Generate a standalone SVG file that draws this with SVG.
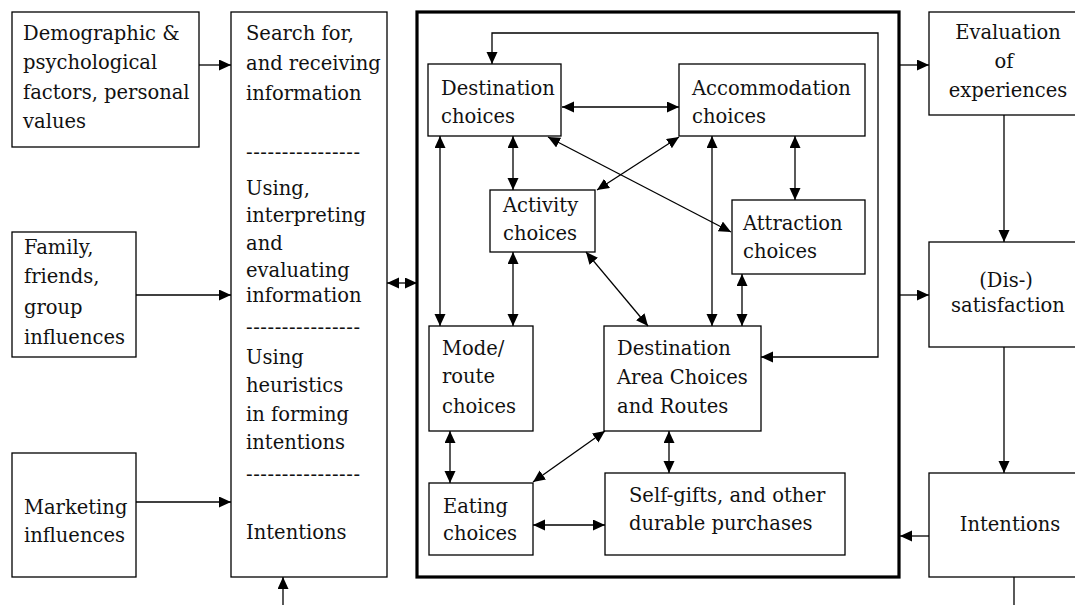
<svg xmlns="http://www.w3.org/2000/svg" width="1075" height="605" viewBox="0 0 1075 605">
  <style>
    .box { fill: #fff; stroke: #000; stroke-width: 1.3; }
    .frame { fill: none; stroke: #000; stroke-width: 3.2; }
    .lbl { font-family: "DejaVu Serif", "Liberation Serif", serif; font-size: 19.5px; fill: #111; }
    .mid { text-anchor: middle; }
    .con { fill: none; stroke: #000; stroke-width: 1.3; }
    .one { marker-end: url(#ah); }
    .two { marker-start: url(#ah); marker-end: url(#ah); }
  </style>
  <defs>
    <marker id="ah" markerUnits="userSpaceOnUse" markerWidth="13" markerHeight="13" refX="12" refY="5.5" orient="auto-start-reverse" viewBox="0 0 13 13">
      <path d="M0,0 L12,5.5 L0,11 z" fill="#000"/>
    </marker>
  </defs>

  <rect width="1075" height="605" fill="#fff"/>

  <!-- outer frame around the in-trip choices -->
  <rect id="trip-frame" class="frame" x="417" y="12" width="482" height="565"/>

  <!-- left column -->
  <g id="demographic">
    <rect class="box" x="12" y="12" width="187" height="135"/>
    <text class="lbl" x="23" y="40">Demographic &amp;</text>
    <text class="lbl" x="23" y="69">psychological</text>
    <text class="lbl" x="23" y="99">factors, personal</text>
    <text class="lbl" x="23" y="128">values</text>
  </g>
  <g id="family">
    <rect class="box" x="12" y="232" width="124" height="125"/>
    <text class="lbl" x="24" y="254">Family,</text>
    <text class="lbl" x="24" y="283">friends,</text>
    <text class="lbl" x="24" y="314">group</text>
    <text class="lbl" x="24" y="344">influences</text>
  </g>
  <g id="marketing">
    <rect class="box" x="12" y="453" width="124" height="124"/>
    <text class="lbl" x="24" y="514">Marketing</text>
    <text class="lbl" x="24" y="542">influences</text>
  </g>

  <!-- information processing column -->
  <g id="information">
    <rect class="box" x="231" y="12" width="156" height="565"/>
    <text class="lbl" x="246" y="40">Search for,</text>
    <text class="lbl" x="246" y="70">and receiving</text>
    <text class="lbl" x="246" y="100">information</text>
    <text class="lbl" x="246" y="159" textLength="114">----------------</text>
    <text class="lbl" x="246" y="195">Using,</text>
    <text class="lbl" x="246" y="222">interpreting</text>
    <text class="lbl" x="246" y="250">and</text>
    <text class="lbl" x="246" y="277">evaluating</text>
    <text class="lbl" x="246" y="302">information</text>
    <text class="lbl" x="246" y="334" textLength="114">----------------</text>
    <text class="lbl" x="246" y="364">Using</text>
    <text class="lbl" x="246" y="392">heuristics</text>
    <text class="lbl" x="246" y="421">in forming</text>
    <text class="lbl" x="246" y="449">intentions</text>
    <text class="lbl" x="246" y="481" textLength="114">----------------</text>
    <text class="lbl" x="246" y="539">Intentions</text>
  </g>

  <!-- choice nodes inside the frame -->
  <g id="destination">
    <rect class="box" x="428" y="64" width="133" height="72"/>
    <text class="lbl" x="441" y="95">Destination</text>
    <text class="lbl" x="441" y="123">choices</text>
  </g>
  <g id="accommodation">
    <rect class="box" x="679" y="64" width="186" height="72"/>
    <text class="lbl" x="692" y="95">Accommodation</text>
    <text class="lbl" x="692" y="123">choices</text>
  </g>
  <g id="activity">
    <rect class="box" x="490" y="190" width="105" height="62"/>
    <text class="lbl" x="503" y="212">Activity</text>
    <text class="lbl" x="503" y="240">choices</text>
  </g>
  <g id="attraction">
    <rect class="box" x="732" y="200" width="133" height="74"/>
    <text class="lbl" x="743" y="230">Attraction</text>
    <text class="lbl" x="743" y="258">choices</text>
  </g>
  <g id="mode">
    <rect class="box" x="429" y="326" width="104" height="105"/>
    <text class="lbl" x="442" y="355">Mode/</text>
    <text class="lbl" x="442" y="383">route</text>
    <text class="lbl" x="442" y="413">choices</text>
  </g>
  <g id="destination-area">
    <rect class="box" x="604" y="326" width="157" height="105"/>
    <text class="lbl" x="617" y="355">Destination</text>
    <text class="lbl" x="617" y="384">Area Choices</text>
    <text class="lbl" x="617" y="413">and Routes</text>
  </g>
  <g id="eating">
    <rect class="box" x="429" y="483" width="104" height="72"/>
    <text class="lbl" x="443" y="513">Eating</text>
    <text class="lbl" x="443" y="540">choices</text>
  </g>
  <g id="self-gifts">
    <rect class="box" x="605" y="473" width="240" height="82"/>
    <text class="lbl" x="629" y="502">Self-gifts, and other</text>
    <text class="lbl" x="629" y="530">durable purchases</text>
  </g>

  <!-- outcome column -->
  <g id="evaluation">
    <rect class="box" x="929" y="12" width="160" height="103"/>
    <text class="lbl mid" x="1008" y="39">Evaluation</text>
    <text class="lbl mid" x="1004" y="68">of</text>
    <text class="lbl mid" x="1008" y="97">experiences</text>
  </g>
  <g id="dissatisfaction">
    <rect class="box" x="929" y="242" width="160" height="105"/>
    <text class="lbl mid" x="1006" y="287">(Dis-)</text>
    <text class="lbl mid" x="1008" y="312">satisfaction</text>
  </g>
  <g id="intentions">
    <rect class="box" x="929" y="473" width="160" height="104"/>
    <text class="lbl mid" x="1010" y="531">Intentions</text>
  </g>

  <g id="connectors">
    <!-- inputs to information processing -->
    <path class="con one" d="M199,65 H231"/>
    <path class="con one" d="M136,295 H231"/>
    <path class="con one" d="M136,502 H231"/>
    <path class="con one" d="M283,605 V577"/>
    <path class="con two" d="M387,283 H417"/>
    <!-- frame to outcomes -->
    <path class="con one" d="M900,65 H929"/>
    <path class="con one" d="M900,295 H929"/>
    <path class="con one" d="M1004,115 V242"/>
    <path class="con one" d="M1004,347 V473"/>
    <path class="con one" d="M929,536 H900"/>
    <path class="con" d="M1014,577 V605"/>
    <!-- feedback loop around the frame interior -->
    <path class="con two" d="M761,357 H878 V33 H492 V64"/>
    <!-- links among choices -->
    <path class="con two" d="M562,107 H679"/>
    <path class="con two" d="M513,136 V190"/>
    <path class="con two" d="M795,136 V200"/>
    <path class="con two" d="M548,137 L731,232"/>
    <path class="con two" d="M679,137 L597,190"/>
    <path class="con two" d="M440,136 V326"/>
    <path class="con two" d="M513,252 V326"/>
    <path class="con two" d="M712,136 V326"/>
    <path class="con two" d="M742,274 V326"/>
    <path class="con two" d="M586,252 L648,326"/>
    <path class="con two" d="M450,431 V483"/>
    <path class="con two" d="M669,431 V473"/>
    <path class="con two" d="M605,431 L533,482"/>
    <path class="con two" d="M533,525 H605"/>
  </g>
</svg>
